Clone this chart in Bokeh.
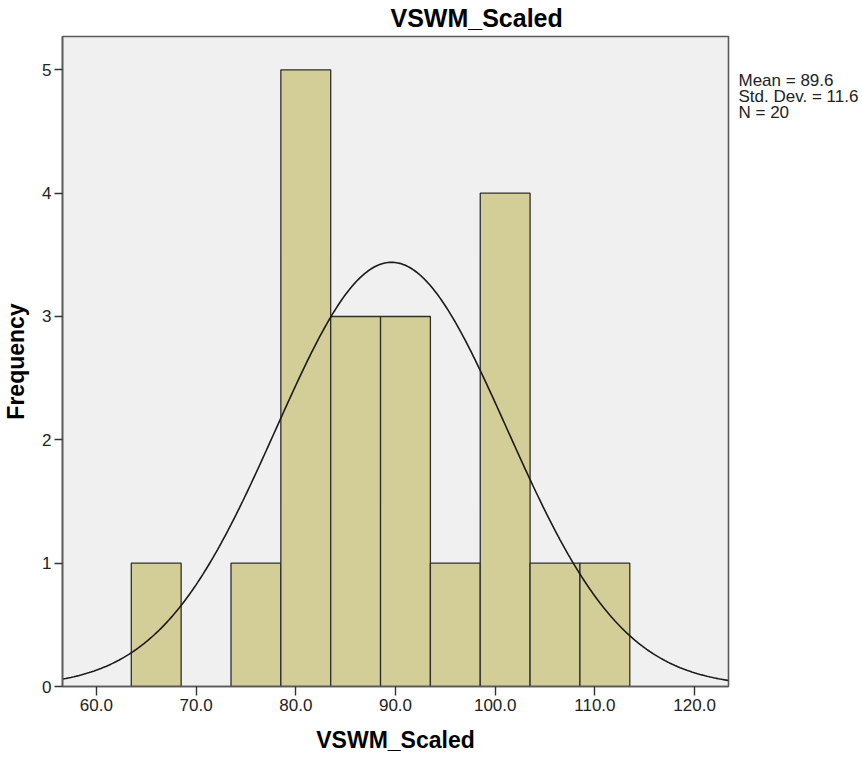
import numpy as np
from bokeh.plotting import figure
from bokeh.layouts import row
from bokeh.models import Range1d, FixedTicker, CustomJSTickFormatter
from bokeh.core.properties import value
from bokeh.embed import file_html
from bokeh.resources import INLINE

# Histogram data (bin edges and frequencies)
bin_left = [63.5, 73.5, 78.5, 83.5, 88.5, 93.5, 98.5, 103.5, 108.5]
bin_right = [68.5, 78.5, 83.5, 88.5, 93.5, 98.5, 103.5, 108.5, 113.5]
counts = [1, 1, 5, 3, 3, 1, 4, 1, 1]

mean = 89.6
sd = 11.6
n = 20
bin_width = 5.0

x_ticks = [60, 70, 80, 90, 100, 110, 120]
y_ticks = [0, 1, 2, 3, 4, 5]

FONT = "Liberation Sans"

p = figure(width=730, height=758, output_backend="svg", toolbar_location=None,
           x_range=Range1d(56.6, 123.4), y_range=Range1d(0, 5.27),
           min_border_left=62, min_border_right=2, min_border_top=36,
           min_border_bottom=72)

p.background_fill_color = "#f0f0f0"
p.border_fill_color = "white"
p.outline_line_color = "#5a5a5a"
p.outline_line_width = 1.6
p.grid.visible = False

p.title.text = "VSWM_Scaled"
p.title.align = "left"
p.title.vertical_align = "top"
p.title.offset = 328
p.title.standoff = 5
p.title.text_font = FONT
p.title.text_font_size = "25px"
p.title.text_font_style = "bold"
p.title.text_color = "black"

p.quad(left=bin_left, right=bin_right, bottom=0, top=counts,
       fill_color="#d3ce97", line_color="#2e2e2e", line_width=1.3)

# fitted normal curve from mean / sd / N
xs = np.linspace(56.6, 123.4, 400)
ys = n * bin_width / (sd * np.sqrt(2 * np.pi)) * np.exp(-0.5 * ((xs - mean) / sd) ** 2)
p.line(xs, ys, line_color="#1a1a1a", line_width=1.6)

for ax in (p.xaxis[0], p.yaxis[0]):
    ax.axis_line_color = "#5a5a5a"
    ax.axis_line_width = 1.6
    ax.major_tick_line_color = "#333333"
    ax.major_tick_line_width = 1.4
    ax.major_tick_out = 8
    ax.major_tick_in = 0
    ax.minor_tick_line_color = None
    ax.major_label_text_font = FONT
    ax.major_label_text_font_size = "17px"
    ax.major_label_text_color = "#222222"
    ax.axis_label_text_font = FONT
    ax.axis_label_text_font_size = "23px"
    ax.axis_label_text_font_style = "bold"
    ax.axis_label_text_color = "black"

p.xaxis[0].ticker = FixedTicker(ticks=x_ticks)
p.xaxis[0].formatter = CustomJSTickFormatter(code="return tick.toFixed(1);")
p.xaxis[0].axis_label = "VSWM_Scaled"
p.xaxis[0].major_tick_out = 9
p.xaxis[0].major_label_standoff = 3
p.xaxis[0].axis_label_standoff = 13

p.yaxis[0].ticker = FixedTicker(ticks=y_ticks)
p.yaxis[0].axis_label = "Frequency"
p.yaxis[0].major_label_standoff = 3
p.yaxis[0].axis_label_standoff = 10

# statistics box to the right of the plot (its frame is aligned with the main frame)
stats = ["Mean = %.1f" % mean, "Std. Dev. = %.1f" % sd, "N = %d" % n]
p2 = figure(width=132, height=758, output_backend="svg", toolbar_location=None,
            x_range=Range1d(0, 132), y_range=Range1d(686, 36),
            min_border=0, outline_line_color=None, title_location=None,
            x_axis_location=None, y_axis_location=None)
p2.grid.visible = False
p2.text(x=[8, 8, 8], y=[80, 96, 112], text=stats,
        text_font=value(FONT), text_font_size="17px", text_color="#222222",
        text_baseline="alphabetic", text_align="left")

layout = row(p, p2)
open("out.html", "w").write(file_html(layout, INLINE))
